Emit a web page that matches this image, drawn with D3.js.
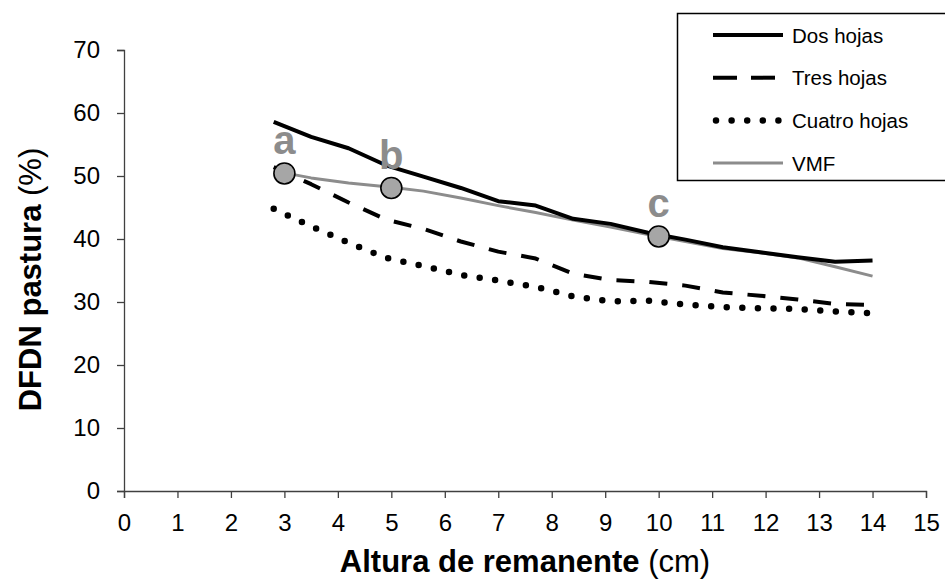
<!DOCTYPE html>
<html>
<head>
<meta charset="utf-8">
<script src="https://cdn.jsdelivr.net/npm/d3@7"></script>
<style>
  body { margin: 0; background: #fff; }
  svg { font-family: "Liberation Sans", Arial, sans-serif; }
</style>
</head>
<body>
<div id="chart"></div>
<script>
// remnant height (cm)
var alturas = [2.8, 3.5, 4.2, 4.9, 5.6, 6.3, 7.0, 7.7, 8.4, 9.1, 9.8, 10.5, 11.2, 11.9, 12.6, 13.3, 14.0];
var dosHojas = [58.6, 56.2, 54.4, 51.7, 49.9, 48.1, 46.0, 45.3, 43.2, 42.4, 41.0, 39.9, 38.7, 37.9, 37.1, 36.4, 36.6];
var tresHojas = [51.4, 48.7, 45.8, 43.1, 41.6, 39.6, 38.0, 36.9, 34.5, 33.5, 33.2, 32.6, 31.5, 31.0, 30.4, 29.7, 29.5];
var cuatroHojas = [44.8, 42.0, 39.4, 37.0, 35.7, 34.3, 33.4, 32.4, 30.9, 30.1, 30.2, 29.6, 29.2, 29.0, 28.9, 28.5, 28.2];
var vmfX = [3.0, 3.5, 4.2, 5.0, 5.6, 6.3, 7.0, 7.7, 8.4, 9.1, 9.8, 10.5, 11.2, 11.9, 12.6, 13.3, 14.0];
var vmfY = [50.5, 49.7, 48.9, 48.2, 47.6, 46.5, 45.3, 44.2, 43.0, 41.9, 40.7, 39.6, 38.5, 37.8, 37.0, 35.6, 34.1];
var puntosX = [3, 5, 10];
var puntosY = [50.4, 48.1, 40.4];
var puntosLabel = ['a', 'b', 'c'];
var xTicks = d3.range(0, 16);
var yTicks = [0, 10, 20, 30, 40, 50, 60, 70];
var leyenda = ['Dos hojas', 'Tres hojas', 'Cuatro hojas', 'VMF'];

var width = 945, height = 579;
var margin = { top: 50, right: 19, bottom: 88, left: 124 };
var w = width - margin.left - margin.right;
var h = height - margin.top - margin.bottom;

var svg = d3.select('#chart').append('svg')
    .attr('width', width)
    .attr('height', height);

var g = svg.append('g')
    .attr('transform', 'translate(' + margin.left + ',' + margin.top + ')');

var xScale = d3.scaleLinear().domain([0, 15]).range([0, w]);
var yScale = d3.scaleLinear().domain([0, 70]).range([h, 0]);

// axes
var xAxis = d3.axisBottom(xScale).tickValues(xTicks).tickSize(7).tickSizeOuter(7).tickPadding(16);
var yAxis = d3.axisLeft(yScale).tickValues(yTicks).tickSize(7).tickSizeOuter(7).tickPadding(17);

var gx = g.append('g')
    .attr('transform', 'translate(0,' + h + ')')
    .call(xAxis);
var gy = g.append('g').call(yAxis);

[gx, gy].forEach(function(a) {
    a.attr('font-size', 24).attr('font-family', '"Liberation Sans", Arial, sans-serif');
    a.selectAll('path, line').attr('stroke', '#404040').attr('stroke-width', 1.3);
    a.selectAll('text').attr('fill', '#000');
});

// series
var series = [
    { name: 'Dos hojas', x: alturas, y: dosHojas, stroke: '#000', sw: 4, dash: null, cap: 'butt' },
    { name: 'Tres hojas', x: alturas, y: tresHojas, stroke: '#000', sw: 4, dash: '18,15', cap: 'butt' },
    { name: 'Cuatro hojas', x: alturas, y: cuatroHojas, stroke: '#000', sw: 6.5, dash: '0,15.6', cap: 'round' },
    { name: 'VMF', x: vmfX, y: vmfY, stroke: '#8c8c8c', sw: 3, dash: null, cap: 'butt' }
];

var line = d3.line()
    .x(function(d) { return xScale(d[0]); })
    .y(function(d) { return yScale(d[1]); });

// drawing order: dashes, dots, vmf, then solid on top
[series[1], series[2], series[3], series[0]].forEach(function(s) {
    var pts = s.x.map(function(v, i) { return [v, s.y[i]]; });
    g.append('path')
        .attr('d', line(pts))
        .attr('fill', 'none')
        .attr('stroke', s.stroke)
        .attr('stroke-width', s.sw)
        .attr('stroke-dasharray', s.dash)
        .attr('stroke-linecap', s.cap)
        .attr('stroke-linejoin', 'round');
});

// highlighted points
puntosX.forEach(function(v, i) {
    g.append('circle')
        .attr('cx', xScale(v))
        .attr('cy', yScale(puntosY[i]))
        .attr('r', 10.5)
        .attr('fill', '#a6a6a6')
        .attr('stroke', '#000')
        .attr('stroke-width', 1.6);
    g.append('text')
        .attr('x', xScale(v))
        .attr('y', yScale(puntosY[i]) - 19)
        .attr('text-anchor', 'middle')
        .attr('font-size', 40)
        .attr('font-weight', 'bold')
        .attr('fill', '#8c8c8c')
        .text(puntosLabel[i]);
});

// axis titles
var xt = svg.append('text')
    .attr('x', margin.left + w / 2)
    .attr('y', 572)
    .attr('text-anchor', 'middle')
    .attr('font-size', 31);
xt.append('tspan').attr('font-weight', 'bold').text('Altura de remanente');
xt.append('tspan').text(' (cm)');

var yt = svg.append('text')
    .attr('transform', 'translate(41,' + (margin.top + h / 2 + 9) + ') rotate(-90)')
    .attr('text-anchor', 'middle')
    .attr('font-size', 31);
yt.append('tspan').attr('font-weight', 'bold').text('DFDN pastura');
yt.append('tspan').text(' (%)');

// legend
var lg = svg.append('g');
lg.append('rect')
    .attr('x', 677.5).attr('y', 13.5)
    .attr('width', 300).attr('height', 167)
    .attr('fill', '#fff')
    .attr('stroke', '#000')
    .attr('stroke-width', 1.5);

leyenda.forEach(function(name, i) {
    var s = series[i];
    var ly = 35 + i * 42.7;
    lg.append('line')
        .attr('x1', s.cap === 'round' ? 716 : 713)
        .attr('x2', 783)
        .attr('y1', ly).attr('y2', ly)
        .attr('stroke', s.stroke)
        .attr('stroke-width', s.sw)
        .attr('stroke-dasharray', s.dash === '18,15' ? '24,14' : s.dash)
        .attr('stroke-linecap', s.cap);
    lg.append('text')
        .attr('x', 792)
        .attr('y', ly + 7.5)
        .attr('font-size', 20.5)
        .text(name);
});
</script>
</body>
</html>
